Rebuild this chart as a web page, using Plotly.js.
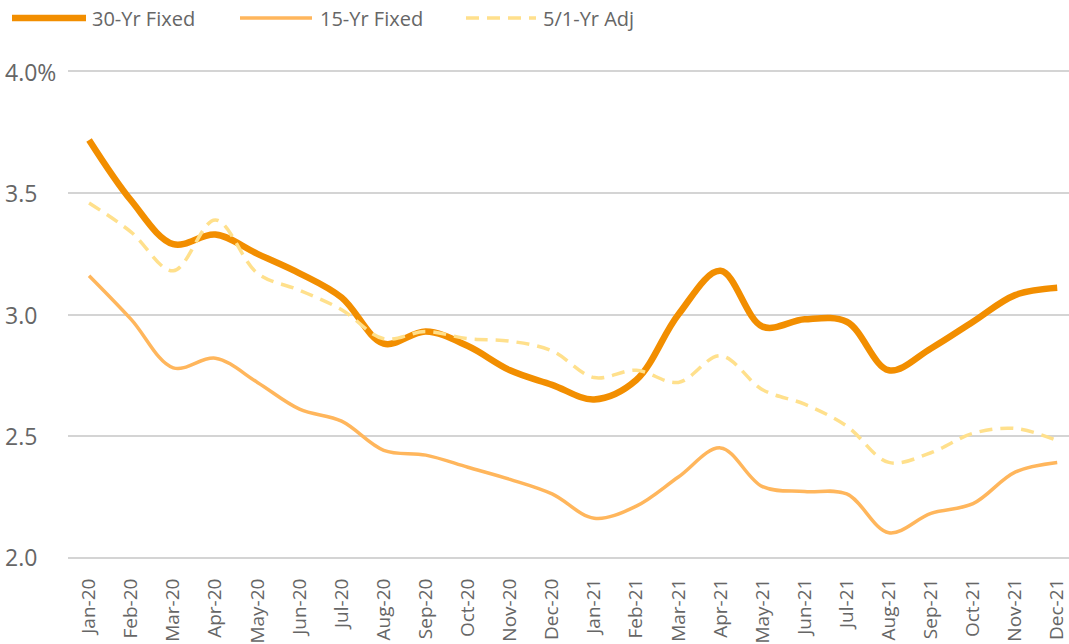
<!DOCTYPE html>
<html>
<head>
<meta charset="utf-8">
<script src="https://cdn.plot.ly/plotly-3.0.1.min.js"></script>
<style>html,body{margin:0;padding:0;background:#fff;}#chart{width:1069px;height:644px;}</style>
</head>
<body>
<div id="chart"></div>
<script>
const months = ["Jan-20","Feb-20","Mar-20","Apr-20","May-20","Jun-20","Jul-20","Aug-20","Sep-20","Oct-20","Nov-20","Dec-20",
                "Jan-21","Feb-21","Mar-21","Apr-21","May-21","Jun-21","Jul-21","Aug-21","Sep-21","Oct-21","Nov-21","Dec-21"];
const fixed30 = [3.72,3.47,3.29,3.33,3.25,3.17,3.07,2.88,2.93,2.87,2.77,2.71,
                 2.65,2.73,3.00,3.18,2.95,2.98,2.97,2.77,2.86,2.97,3.08,3.11];
const fixed15 = [3.16,2.98,2.78,2.82,2.72,2.61,2.56,2.44,2.42,2.37,2.32,2.26,
                 2.16,2.21,2.33,2.45,2.29,2.27,2.26,2.10,2.18,2.22,2.35,2.39];
const adj51   = [3.46,3.34,3.18,3.39,3.17,3.10,3.02,2.90,2.93,2.90,2.89,2.85,
                 2.74,2.77,2.72,2.83,2.69,2.63,2.54,2.39,2.43,2.51,2.53,2.48];
const seriesNames = ["30-Yr Fixed","15-Yr Fixed","5/1-Yr Adj"];
const yTickVals = [2.0,2.5,3.0,3.5,4.0];
const yTickText = ["2.0","2.5","3.0","3.5","4.0%"];

const W = 1069, H = 644, ML = 68, MR = 0, MT = 72, MB = 87;
const PW = W - ML - MR, PH = H - MT - MB;
const px = p => (p - ML) / PW;
const py = p => (H - MB - p) / PH;

const styles = [
  {color:"#F28E00", width:6.5, dash:"solid"},
  {color:"#FFB65C", width:3.5, dash:"solid"},
  {color:"#FFE08C", width:3.5, dash:"13px,8px"}
];
const values = [fixed30, fixed15, adj51];

const traces = values.map((v,i) => ({
  type:"scatter", mode:"lines", x:months, y:v, name:seriesNames[i],
  line:{color:styles[i].color, width:styles[i].width, dash:styles[i].dash, shape:"spline", smoothing:1},
  hoverinfo:"x+y+name"
}));
const ordered = [traces[1], traces[0], traces[2]];

const font = "'Open Sans', 'DejaVu Sans', sans-serif";
const grey = "#666666";

const legendPos = [{x0:12,x1:86,tx:90},{x0:240,x1:312,tx:318},{x0:466,x1:536,tx:541}];
const shapes = [], annotations = [];
legendPos.forEach((p,i)=>{
  shapes.push({type:"line", xref:"paper", yref:"paper", x0:px(p.x0), x1:px(p.x1), y0:py(18), y1:py(18),
    line:{color:styles[i].color, width:styles[i].width, dash:styles[i].dash}});
  annotations.push({xref:"paper", yref:"paper", x:px(p.tx), y:py(19), xanchor:"left", yanchor:"middle",
    text:seriesNames[i], showarrow:false, font:{family:font, size:20, color:grey}});
});
yTickVals.forEach((v,i)=>{
  annotations.push({xref:"paper", yref:"y", x:px(3), y:v, xanchor:"left", yanchor:"middle",
    text:yTickText[i], showarrow:false, font:{family:font, size:23, color:grey}});
});

const layout = {
  width:W, height:H,
  margin:{l:ML, r:MR, t:MT, b:MB, pad:0},
  paper_bgcolor:"#ffffff", plot_bgcolor:"#ffffff",
  showlegend:false,
  xaxis:{type:"category", range:[-0.5, 23.28], tickangle:-90, showgrid:false,
    showline:true, mirror:true, linecolor:"#d4d4d4", linewidth:2, zeroline:false,
    ticks:"outside", ticklen:12, tickcolor:"rgba(0,0,0,0)",
    tickfont:{family:font, size:19, color:grey}, fixedrange:true},
  yaxis:{range:[2.0,4.0], tickvals:yTickVals, showticklabels:false, showgrid:true,
    gridcolor:"#d4d4d4", gridwidth:2, zeroline:false, showline:false, fixedrange:true},
  shapes:shapes, annotations:annotations
};
Plotly.newPlot("chart", ordered, layout, {displayModeBar:false, staticPlot:true});
</script>
</body>
</html>
